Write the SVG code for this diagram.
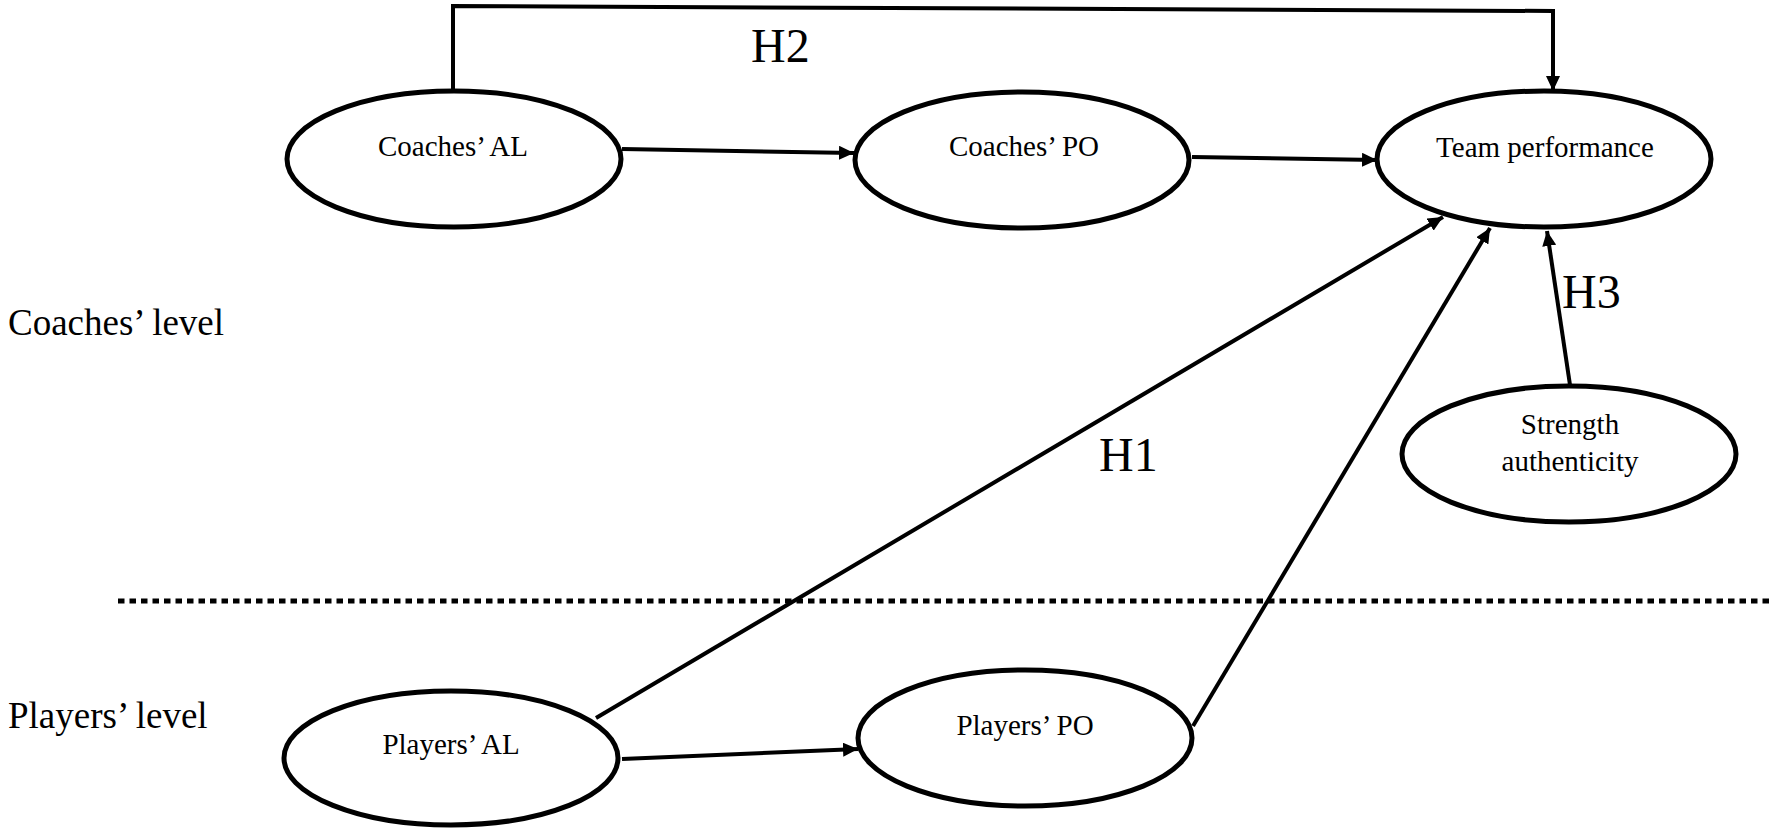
<svg xmlns="http://www.w3.org/2000/svg" width="1771" height="828" viewBox="0 0 1771 828">
<defs>
<style>
.node{fill:#fff;stroke:#000;stroke-width:5}
.t{font-family:"Liberation Serif","Times New Roman",serif;font-size:29px;fill:#000;text-anchor:middle}
.lvl{font-family:"Liberation Serif","Times New Roman",serif;font-size:37px;fill:#000}
.h{font-family:"Liberation Serif","Times New Roman",serif;font-size:48px;fill:#000}
.c{fill:none;stroke:#000;stroke-width:4}
</style>
<marker id="ah" markerUnits="userSpaceOnUse" markerWidth="15" markerHeight="14" refX="15" refY="7" orient="auto">
<path d="M0,0 L15,7 L0,14 z" fill="#000"/>
</marker>
</defs>
<rect width="1771" height="828" fill="#fff"/>
<g id="levels">
<text class="lvl" x="8" y="335">Coaches’ level</text>
<text class="lvl" x="8" y="728">Players’ level</text>
<line x1="118" y1="601" x2="1771" y2="601" stroke="#000" stroke-width="5" stroke-dasharray="6.5 5"/>
</g>
<g id="connectors">
<path class="c" d="M453,90 L453,6 L1553,11 L1553,91" marker-end="url(#ah)"/>
<line class="c" x1="622" y1="149" x2="854" y2="153" marker-end="url(#ah)"/>
<line class="c" x1="1192" y1="157" x2="1377" y2="160" marker-end="url(#ah)"/>
<line class="c" x1="596" y1="718" x2="1443" y2="217" marker-end="url(#ah)"/>
<line class="c" x1="1193" y1="726" x2="1490" y2="228" marker-end="url(#ah)"/>
<line class="c" x1="1570" y1="385" x2="1547" y2="231" marker-end="url(#ah)"/>
<line class="c" x1="622" y1="759" x2="858" y2="749" marker-end="url(#ah)"/>
<text class="h" x="751" y="62">H2</text>
<text class="h" x="1099" y="471">H1</text>
<text class="h" x="1562" y="308">H3</text>
</g>
<g id="coaches-al">
<ellipse class="node" cx="454" cy="159" rx="167" ry="68"/>
<text class="t" x="453" y="156">Coaches’ AL</text>
</g>
<g id="coaches-po">
<ellipse class="node" cx="1022" cy="160" rx="167" ry="68"/>
<text class="t" x="1024" y="156">Coaches’ PO</text>
</g>
<g id="team-performance">
<ellipse class="node" cx="1544" cy="159" rx="167" ry="68"/>
<text class="t" x="1545" y="157">Team performance</text>
</g>
<g id="strength-authenticity">
<ellipse class="node" cx="1569" cy="454" rx="167" ry="68"/>
<text class="t" x="1570" y="434">Strength</text>
<text class="t" x="1570" y="471">authenticity</text>
</g>
<g id="players-al">
<ellipse class="node" cx="451" cy="758" rx="167" ry="67"/>
<text class="t" x="451" y="754">Players’ AL</text>
</g>
<g id="players-po">
<ellipse class="node" cx="1025" cy="738" rx="167" ry="68"/>
<text class="t" x="1025" y="735">Players’ PO</text>
</g>
</svg>
